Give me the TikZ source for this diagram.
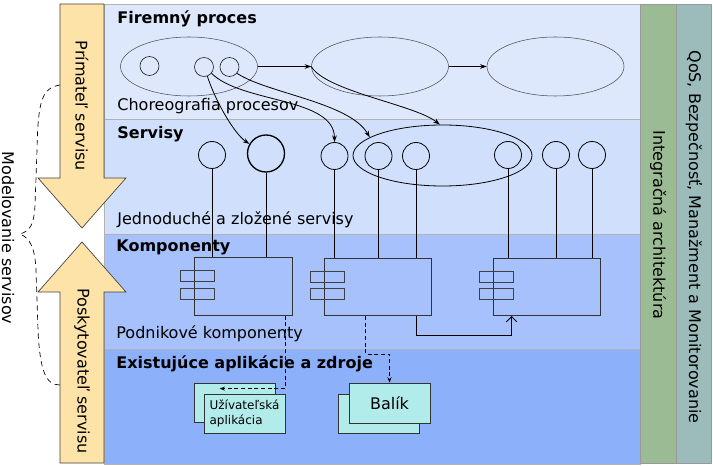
\documentclass[tikz,border=0pt]{standalone}
\usepackage{fontspec}
\setmainfont{DejaVu Sans}
\usetikzlibrary{shapes.geometric,arrows.meta,calc}

\definecolor{bandA}{RGB}{222,232,252}
\definecolor{bandB}{RGB}{208,224,252}
\definecolor{bandC}{RGB}{166,193,252}
\definecolor{bandD}{RGB}{140,177,250}
\definecolor{integcol}{RGB}{155,187,148}
\definecolor{qoscol}{RGB}{156,188,188}
\definecolor{rolecol}{RGB}{253,227,168}
\definecolor{appcol}{RGB}{178,236,234}

\begin{document}
\begin{tikzpicture}[x=0.75pt, y=-0.75pt, line width=0.6pt,
    >={Stealth[length=5pt,width=3.5pt]},
    layer/.style={draw=black!30, anchor=north west, minimum width=402pt, minimum height=86.25pt},
    sidecol/.style={draw=black!40, anchor=north west, minimum height=344.25pt},
    rolearrow/.style={fill=rolecol, draw=black!75, line width=0.5pt},
    brace/.style={dashed, dash pattern=on 4pt off 3pt, line width=0.5pt},
    procell/.style={ellipse, draw=black!70, line width=0.4pt, minimum width=102.75pt, minimum height=44.25pt},
    actcirc/.style={circle, draw=black!85, line width=0.5pt, minimum size=14.25pt},
    svc/.style={circle, draw, minimum size=20.25pt},
    compbox/.style={draw=black!80, fill=bandC, minimum height=43pt},
    portbox/.style={draw=black!75, minimum width=25.5pt, minimum height=8.25pt},
    appbox/.style={draw=black!80, fill=appcol, minimum width=60.75pt, minimum height=29.25pt},
    dep/.style={dashed, dash pattern=on 3pt off 2pt, -{Stealth[length=4pt,width=3pt]}},
    layertitle/.style={anchor=base west, font=\fontsize{12}{14}\selectfont\bfseries},
    sublabel/.style={anchor=base west}]
\tikzstyle{every node}=[font=\fontsize{12}{14}\selectfont, inner sep=0pt]
\useasboundingbox (0,0) rectangle (713,466);

% vrstvy
\node [layer, fill=bandA] (proces) at (104,4) {};
\node [layer, fill=bandB] (servisy) at (104,119) {};
\node [layer, fill=bandC] (komp) at (104,234) {};
\node [layer, fill=bandD] (zdroje) at (104,349) {};

\node [sidecol, fill=integcol, minimum width=27pt] (integ) at (640,4) {};
\node [sidecol, fill=qoscol, minimum width=26.25pt] (qos) at (676,4) {};
\node [rotate=-90] (integtext) at (658,225) {Integračná architektúra};
\node [rotate=-90] (qostext) at (694,237) {QoS, Bezpečnosť, Manažment a Monitorovanie};

% spotrebitel / poskytovatel
\draw [rolearrow] (60,4) -- (104,4) -- (104,178) -- (126,178) -- (82,228)
  -- (38,178) -- (60,178) -- cycle;
\draw [rolearrow] (82,242) -- (126,292) -- (104,292) -- (104,463) -- (60,463)
  -- (60,292) -- (38,292) -- cycle;
\node [rotate=-90] (primatel) at (82,106) {Prímateľ servisu};
\node [rotate=-90] (poskyt) at (82,371) {Poskytovateľ servisu};

\coordinate (bTop) at (60,85);
\coordinate (bTip) at (20,234);
\coordinate (bBot) at (60,385);
\draw [brace] (bTop) .. controls (42,88) and (38,100) .. (37,150) -- (35,205)
  .. controls (34,225) and (30,231) .. (bTip)
  .. controls (30,238) and (35,248) .. (36,270) -- (38,330)
  .. controls (40,372) and (46,385) .. (bBot);
\node [rotate=-90] (model) at (8,238) {Modelovanie servisov};

% firemny proces
\node [procell] (e1) at (189,66.5) {};
\node [procell] (e2) at (380,66.5) {};
\node [procell] (e3) at (555.5,66.5) {};
\node [actcirc] (p1) at (149.5,66) {};
\node [actcirc] (p2) at (204,67) {};
\node [actcirc] (p3) at (229.5,67) {};
\node [layertitle] (tproces) at (117,24) {Firemný proces};
\node [sublabel] (lproces) at (117,111) {Choreografia procesov};

% servisy
\node [svc] (s1) at (212,155) {};
\node [svc, minimum size=27.75pt, line width=1pt] (s2) at (266,153.5) {};
\node [svc] (s3) at (334.5,156) {};
\node [svc] (s4) at (378.5,156) {};
\node [svc] (s5) at (416,156) {};
\node [svc] (s6) at (508,155) {};
\node [svc] (s7) at (556,155) {};
\node [svc] (s8) at (592,155) {};
\node [ellipse, draw, minimum width=134.25pt, minimum height=45.75pt] (sg) at (442.5,155.5) {};
\node [layertitle] (tservisy) at (117,139) {Servisy};
\node [sublabel] (lservisy) at (117,225) {Jednoduché a zložené servisy};

% komponenty
\node [compbox, minimum width=73.5pt] (k1) at (243,286.5) {};
\node [compbox, minimum width=80.25pt] (k2) at (377.5,287) {};
\node [compbox, minimum width=80.25pt] (k3) at (546.5,287) {};
\node [portbox] (k1a) at ($(k1.west)+(4,-10.5)$) {};
\node [portbox] (k1b) at ($(k1.west)+(4,7)$) {};
\node [portbox] (k2a) at ($(k2.west)+(4,-10.5)$) {};
\node [portbox] (k2b) at ($(k2.west)+(4,7)$) {};
\node [portbox] (k3a) at ($(k3.west)+(4,-10.5)$) {};
\node [portbox] (k3b) at ($(k3.west)+(4,7)$) {};
\node [layertitle] (tkomp) at (116,252) {Komponenty};
\node [sublabel] (lkomp) at (116,339) {Podnikové komponenty};

% aplikacie a zdroje
\node [appbox] (ub) at (234.5,402.5) {};
\node [appbox, align=left, font=\fontsize{9}{11.25}\selectfont] (uf) at (244.5,413.5) {Užívateľská\\aplikácia};
\node [appbox] (bb) at (378.5,413.5) {};
\node [appbox, minimum height=30pt] (bf) at (389.5,403) {Balík};
\node [layertitle] (tzdroje) at (116,368) {Existujúce aplikácie a zdroje};

% spojenia
\draw [->] (e1) -- (e2);
\draw [->] (e2) -- (e3);
\draw [->] (p2.-70) .. controls +(8,25) and +(-15,-10) .. (s2.150);
\draw [->] (p2.-40) .. controls +(30,30) and +(0,-45) .. (s3.north);
\draw [->] (p3.-40) .. controls +(30,20) and +(-20,-35) .. (sg.166);
\draw [->] (e2.west) .. controls +(15,25) and +(-25,-20) .. (sg.95);

\draw (s1) -- (s1 |- k1.north);
\draw (s2) -- (s2 |- k1.north);
\draw (s3) -- (s3 |- k2.north);
\draw (s4) -- (s4 |- k2.north);
\draw (s5) -- (s5 |- k2.north);
\draw (s6) -- (s6 |- k3.north);
\draw (s7) -- (s7 |- k3.north);
\draw (s8) -- (s8 |- k3.north);

\draw [-{Straight Barb[length=4pt,width=8pt]}] (s5 |- k2.south) -- ++(0,19)
  -| ($(k3.south west)+(19,0)$);
\draw [dep] ($(k1.south east)+(-7,0)$) |- ($(ub.north west)+(26,6)$);
\draw [dep] ($(k2.south west)+(42,0)$) -- ++(0,38) -| (bf.north);
\end{tikzpicture}
\end{document}
